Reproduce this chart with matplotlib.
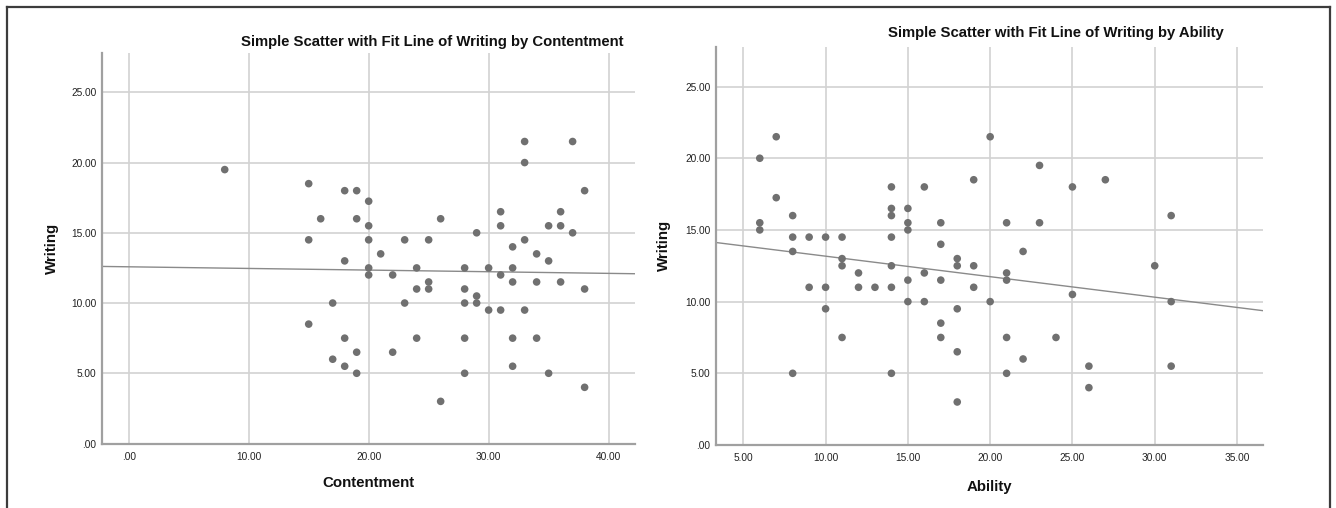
import matplotlib
matplotlib.use("Agg")
import matplotlib.pyplot as plt
from matplotlib.lines import Line2D
from matplotlib.ticker import FuncFormatter, FixedLocator
import numpy as np

plt.rcParams['font.family'] = ['Liberation Sans', 'DejaVu Sans']

# ---- Writing by Contentment ----
contentment = [8, 15, 15, 15, 16, 17, 17, 18, 18, 18, 18, 19, 19, 19, 19,
               20, 20, 20, 20, 20, 21, 22, 22, 23, 23, 24, 24, 24,
               25, 25, 25, 26, 26, 28, 28, 28, 28, 28, 29, 29, 29,
               30, 30, 31, 31, 31, 31, 32, 32, 32, 32, 32,
               33, 33, 33, 33, 34, 34, 34, 35, 35, 35, 36, 36, 36,
               37, 37, 38, 38, 38]
writing_c = [19.5, 18.5, 14.5, 8.5, 16, 10, 6, 18, 13, 7.5, 5.5, 18, 16, 6.5, 5,
             17.25, 15.5, 14.5, 12.5, 12, 13.5, 12, 6.5, 14.5, 10, 12.5, 11, 7.5,
             14.5, 11.5, 11, 16, 3, 12.5, 11, 10, 7.5, 5, 15, 10.5, 10,
             12.5, 9.5, 16.5, 15.5, 12, 9.5, 14, 12.5, 11.5, 7.5, 5.5,
             21.5, 20, 14.5, 9.5, 13.5, 11.5, 7.5, 15.5, 13, 5, 16.5, 15.5, 11.5,
             21.5, 15, 18, 11, 4]
fit_c = (12.58, -0.0117)   # intercept, slope

# ---- Writing by Ability ----
ability = [6, 6, 6, 7, 7, 8, 8, 8, 8, 9, 9, 10, 10, 10,
           11, 11, 11, 11, 12, 12, 13,
           14, 14, 14, 14, 14, 14, 14, 15, 15, 15, 15, 15,
           16, 16, 16, 17, 17, 17, 17, 17, 18, 18, 18, 18, 18,
           19, 19, 19, 20, 20, 21, 21, 21, 21, 21, 22, 22, 23, 23,
           24, 25, 25, 26, 26, 27, 30, 31, 31, 31]
writing_a = [20, 15.5, 15, 21.5, 17.25, 16, 14.5, 13.5, 5, 14.5, 11, 14.5, 11, 9.5,
             14.5, 13, 12.5, 7.5, 12, 11, 11,
             18, 16.5, 16, 14.5, 12.5, 11, 5, 16.5, 15.5, 15, 11.5, 10,
             18, 12, 10, 15.5, 14, 11.5, 8.5, 7.5, 13, 12.5, 9.5, 6.5, 3,
             18.5, 12.5, 11, 21.5, 10, 15.5, 12, 11.5, 7.5, 5, 13.5, 6, 19.5, 15.5,
             7.5, 18, 10.5, 5.5, 4, 18.5, 12.5, 16, 10, 5.5]
fit_a = (14.6, -0.143)

y_ticks = [0, 5, 10, 15, 20, 25]
x_ticks_c = [0, 10, 20, 30, 40]
x_ticks_a = [5, 10, 15, 20, 25, 30, 35]

W, H = 1336, 508
fig = plt.figure(figsize=(W / 100, H / 100), dpi=100)
fig.patch.set_facecolor('white')

GRID = '#d2d2d2'
SPINE = '#a0a0a0'
DOT = '#707070'
LINE = '#8a8a8a'


def spss_fmt(v, _pos=None):
    s = f"{v:.2f}"
    return s[1:] if s.startswith('0.') else s


def px_rect(x0, x1, ytop, ybot):
    return [x0 / W, 1 - ybot / H, (x1 - x0) / W, (ybot - ytop) / H]


def rect_center_y(rect):
    return 1 - (rect[1] + rect[3] / 2)


def panel(rect, x, y, fit, xlim, xticks, xlabel, title, title_xy, ylab_x, xlab_y):
    ax = fig.add_axes(rect)
    ax.set_xlim(*xlim)
    ax.set_ylim(0, 27.78)
    ax.xaxis.set_major_locator(FixedLocator(xticks))
    ax.yaxis.set_major_locator(FixedLocator(y_ticks))
    ax.xaxis.set_major_formatter(FuncFormatter(spss_fmt))
    ax.yaxis.set_major_formatter(FuncFormatter(spss_fmt))
    ax.grid(True, color=GRID, linewidth=1.2)
    ax.set_axisbelow(True)
    for side in ('top', 'right'):
        ax.spines[side].set_visible(False)
    for side in ('left', 'bottom'):
        ax.spines[side].set_color(SPINE)
        ax.spines[side].set_linewidth(1.6)
    ax.tick_params(length=0, labelsize=7.3, colors='#222222')
    ax.tick_params(axis='x', pad=6)
    ax.tick_params(axis='y', pad=4)
    ax.scatter(x, y, s=30, color=DOT, edgecolors='none', zorder=3)
    xs = np.array(xlim)
    ax.plot(xs, fit[0] + fit[1] * xs, color=LINE, linewidth=1.0, zorder=2)
    fig.text(title_xy[0] / W, 1 - title_xy[1] / H, title, ha='center', va='center',
             fontsize=10.7, fontweight='bold', color='#111111')
    fig.text(ylab_x / W, 1 - rect_center_y(rect), 'Writing', rotation=90,
             ha='center', va='center', fontsize=10.8, fontweight='bold', color='#111111')
    cx = rect[0] + rect[2] / 2
    fig.text(cx, 1 - xlab_y / H, xlabel, ha='center', va='center',
             fontsize=10.8, fontweight='bold', color='#111111')
    return ax


panel(px_rect(102, 635, 53.3, 443.5), contentment, writing_c, fit_c, (-2.23, 42.2),
      x_ticks_c, 'Contentment', 'Simple Scatter with Fit Line of Writing by Contentment',
      (432.6, 41.7), 52, 483)
panel(px_rect(716, 1263, 46.7, 445), ability, writing_a, fit_a, (3.34, 36.58),
      x_ticks_a, 'Ability', 'Simple Scatter with Fit Line of Writing by Ability',
      (1055.7, 33.3), 664, 486.7)

# outer frame (top, left, right)
frame_c = '#3c3c3c'
fig.add_artist(Line2D([7 / W, 1330 / W], [1 - 7 / H, 1 - 7 / H], color=frame_c, linewidth=1.6))
fig.add_artist(Line2D([7 / W, 7 / W], [0, 1 - 7 / H], color=frame_c, linewidth=1.6))
fig.add_artist(Line2D([1330 / W, 1330 / W], [0, 1 - 7 / H], color=frame_c, linewidth=1.6))

fig.savefig('out.png', dpi=100, facecolor='white')
